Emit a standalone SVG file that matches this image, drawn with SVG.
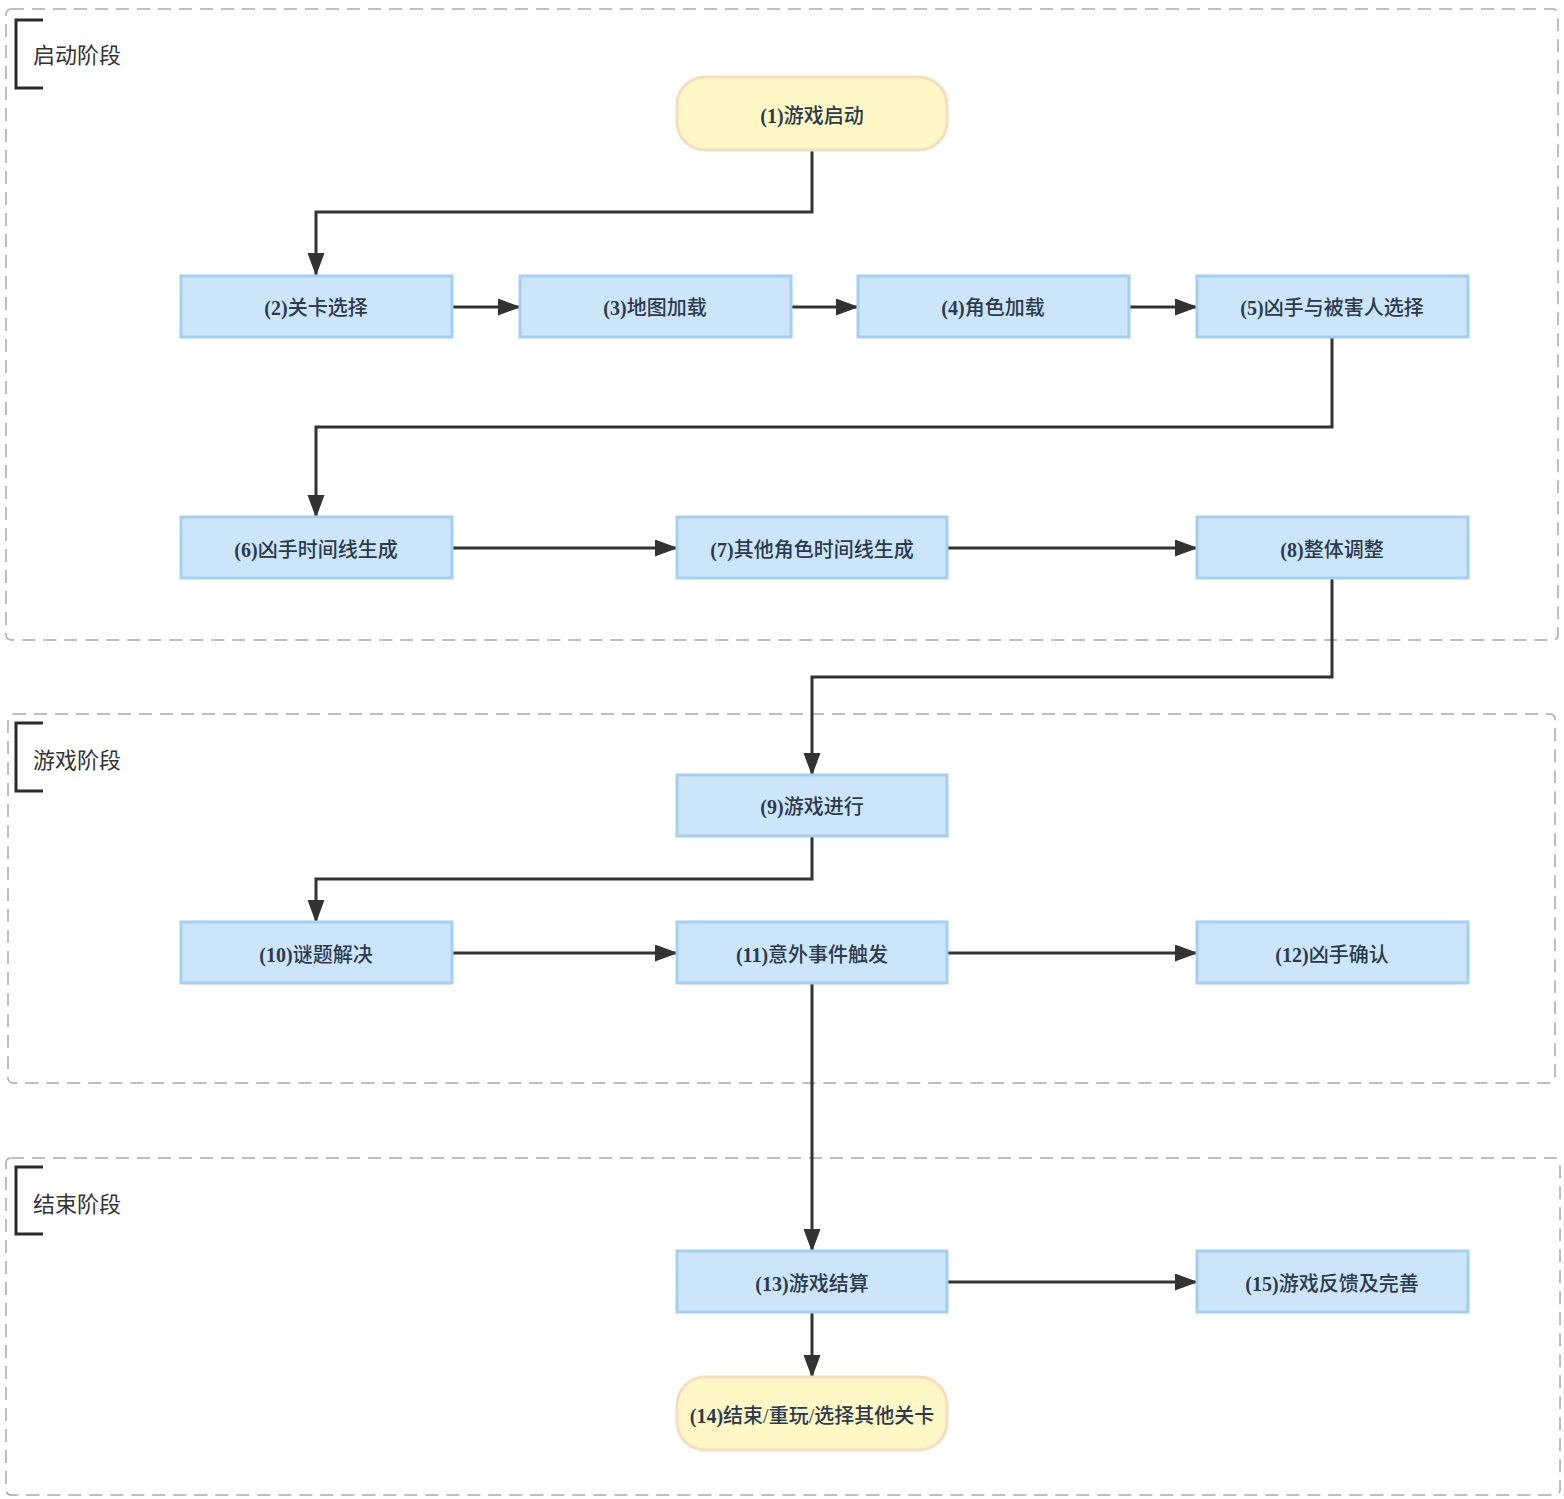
<svg xmlns="http://www.w3.org/2000/svg" width="1564" height="1499" viewBox="0 0 1564 1499">
<style>
.stage{fill:none;stroke:#a9a9a9;stroke-width:1.5;stroke-dasharray:13 8}
.bracket{fill:none;stroke:#2b2b2b;stroke-width:3}
.stitle{font-family:"Liberation Serif","Noto Sans CJK SC",serif;font-size:22px;fill:#333333}
.box{fill:#cde5fb;stroke:#a5cff1;stroke-width:3}
.pill{fill:#fff8c6;stroke:#f8dcbe;stroke-width:3}
.lbl{font-family:"Liberation Serif","Noto Sans CJK SC",serif;font-size:20px;font-weight:500;fill:#2c3a4c;text-anchor:middle;dominant-baseline:central}
.num{font-weight:bold}
.edge{fill:none;stroke:#333333;stroke-width:3}
</style>
<defs>
<marker id="arr" markerUnits="userSpaceOnUse" markerWidth="24" markerHeight="18" refX="22" refY="8.5" orient="auto">
<path d="M0,0 L23,8.5 L0,17 z" fill="#333333"/>
</marker>
</defs>
<rect width="1564" height="1499" fill="#ffffff"/>

<g id="stage-start">
<rect class="stage" x="6" y="9" width="1552" height="631" rx="5"/>
<path class="bracket" d="M43,20 H16 V88 H43"/>
<text class="stitle" x="33" y="63">启动阶段</text>
</g>
<g id="stage-game">
<rect class="stage" x="8" y="714" width="1547" height="369" rx="5"/>
<path class="bracket" d="M43,723 H16 V791 H43"/>
<text class="stitle" x="33" y="768">游戏阶段</text>
</g>
<g id="stage-end">
<rect class="stage" x="6" y="1158" width="1554" height="337" rx="5"/>
<path class="bracket" d="M43,1167 H16 V1234 H43"/>
<text class="stitle" x="33" y="1212">结束阶段</text>
</g>

<g id="connectors">
<path class="edge" marker-end="url(#arr)" d="M812,151 V212 H316 V275"/>
<path class="edge" marker-end="url(#arr)" d="M452,307 H520"/>
<path class="edge" marker-end="url(#arr)" d="M791,307 H858"/>
<path class="edge" marker-end="url(#arr)" d="M1129,307 H1197"/>
<path class="edge" marker-end="url(#arr)" d="M1332,338 V427 H316 V517"/>
<path class="edge" marker-end="url(#arr)" d="M452,548 H677"/>
<path class="edge" marker-end="url(#arr)" d="M947,548 H1197"/>
<path class="edge" marker-end="url(#arr)" d="M1332,579 V677 H812 V775"/>
<path class="edge" marker-end="url(#arr)" d="M812,836 V879 H316 V922"/>
<path class="edge" marker-end="url(#arr)" d="M452,953 H677"/>
<path class="edge" marker-end="url(#arr)" d="M947,953 H1197"/>
<path class="edge" marker-end="url(#arr)" d="M812,984 V1251"/>
<path class="edge" marker-end="url(#arr)" d="M947,1282 H1197"/>
<path class="edge" marker-end="url(#arr)" d="M812,1313 V1377"/>
</g>

<g id="n1"><rect class="pill" x="677" y="77" width="270" height="73" rx="28"/><text class="lbl" x="812" y="116"><tspan class="num">(1)</tspan>游戏启动</text></g>
<g id="n2"><rect class="box" x="181" y="276" width="271" height="61"/><text class="lbl" x="316" y="308"><tspan class="num">(2)</tspan>关卡选择</text></g>
<g id="n3"><rect class="box" x="520" y="276" width="271" height="61"/><text class="lbl" x="655" y="308"><tspan class="num">(3)</tspan>地图加载</text></g>
<g id="n4"><rect class="box" x="858" y="276" width="271" height="61"/><text class="lbl" x="993" y="308"><tspan class="num">(4)</tspan>角色加载</text></g>
<g id="n5"><rect class="box" x="1197" y="276" width="271" height="61"/><text class="lbl" x="1332" y="308"><tspan class="num">(5)</tspan>凶手与被害人选择</text></g>
<g id="n6"><rect class="box" x="181" y="517" width="271" height="61"/><text class="lbl" x="316" y="550"><tspan class="num">(6)</tspan>凶手时间线生成</text></g>
<g id="n7"><rect class="box" x="677" y="517" width="270" height="61"/><text class="lbl" x="812" y="550"><tspan class="num">(7)</tspan>其他角色时间线生成</text></g>
<g id="n8"><rect class="box" x="1197" y="517" width="271" height="61"/><text class="lbl" x="1332" y="550"><tspan class="num">(8)</tspan>整体调整</text></g>
<g id="n9"><rect class="box" x="677" y="775" width="270" height="61"/><text class="lbl" x="812" y="807"><tspan class="num">(9)</tspan>游戏进行</text></g>
<g id="n10"><rect class="box" x="181" y="922" width="271" height="61"/><text class="lbl" x="316" y="955"><tspan class="num">(10)</tspan>谜题解决</text></g>
<g id="n11"><rect class="box" x="677" y="922" width="270" height="61"/><text class="lbl" x="812" y="955"><tspan class="num">(11)</tspan>意外事件触发</text></g>
<g id="n12"><rect class="box" x="1197" y="922" width="271" height="61"/><text class="lbl" x="1332" y="955"><tspan class="num">(12)</tspan>凶手确认</text></g>
<g id="n13"><rect class="box" x="677" y="1251" width="270" height="61"/><text class="lbl" x="812" y="1284"><tspan class="num">(13)</tspan>游戏结算</text></g>
<g id="n15"><rect class="box" x="1197" y="1251" width="271" height="61"/><text class="lbl" x="1332" y="1284"><tspan class="num">(15)</tspan>游戏反馈及完善</text></g>
<g id="n14"><rect class="pill" x="677" y="1377" width="270" height="73" rx="28"/><text class="lbl" x="812" y="1416"><tspan class="num">(14)</tspan>结束/重玩/选择其他关卡</text></g>
</svg>
